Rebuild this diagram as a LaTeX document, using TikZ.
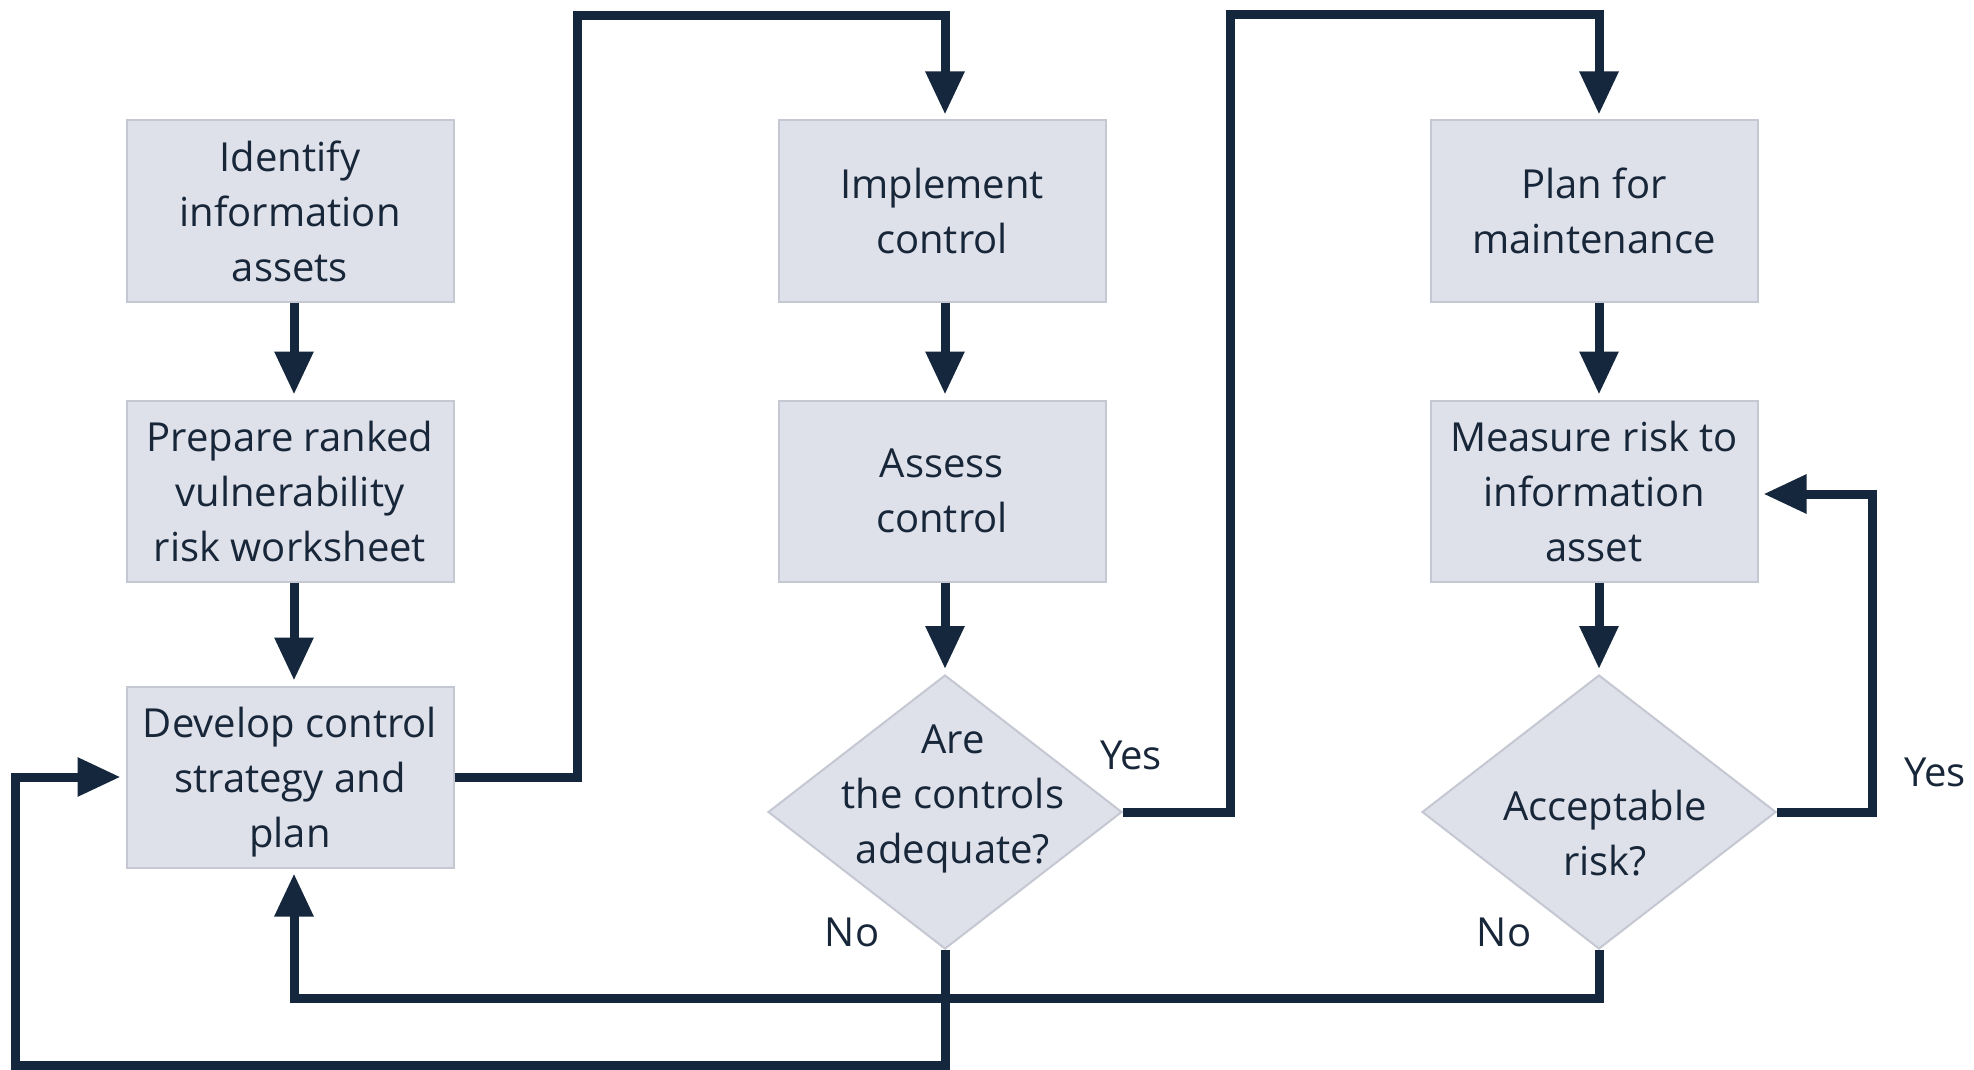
\documentclass[tikz,border=0pt]{standalone}
\usepackage{fontspec}
\setmainfont{Open Sans}
\usetikzlibrary{arrows.meta,shapes.geometric}
\definecolor{navy}{HTML}{14273D}
\definecolor{boxfill}{HTML}{DFE1EA}
\definecolor{boxline}{HTML}{C5C8D2}
\definecolor{txt}{HTML}{172638}
\begin{document}
\begin{tikzpicture}[x=1pt,y=-1pt,
 stepbox/.style={draw=boxline, line width=2pt, fill=boxfill, minimum width=327pt, minimum height=181pt, inner sep=0pt, align=center, text=txt, font=\fontsize{40}{55}\selectfont},
 decision/.style={diamond, draw=boxline, line width=2pt, fill=boxfill, minimum width=354pt, minimum height=274pt, inner sep=0pt},
 dtext/.style={align=center, text=txt, font=\fontsize{40}{55}\selectfont, inner sep=0pt},
 lab/.style={text=txt, font=\fontsize{40}{48}\selectfont, inner sep=0pt},
 flow/.style={draw=navy, line width=9pt, line join=miter, -{Triangle[width=37pt,length=43pt]}, shorten >=5pt},
]
\fill[white] (0,0) rectangle (1974,1070);
\useasboundingbox (0,0) rectangle (1974,1070);

\node[stepbox] (a1) at (290,211) {Identify\\information\\assets};
\node[stepbox] (a2) at (290,491) {Prepare ranked\\vulnerability\\risk worksheet};
\node[stepbox, label={[dtext, yshift=-5pt]center:{Develop control\\strategy and\\plan}}] (a3) at (290,777) {};
\node[stepbox] (b1) at (942,211) {Implement\\control};
\node[stepbox] (b2) at (942,491) {Assess\\control};
\node[decision] (d1) at (945,812) {};
\node[dtext] (t1) at (953,799) {Are\\the controls\\adequate?};
\node[stepbox] (c1) at (1594,211) {Plan for\\maintenance};
\node[stepbox] (c2) at (1594,491) {Measure risk to\\information\\asset};
\node[decision] (d2) at (1599,812) {};
\node[dtext] (t2) at (1605,833) {Acceptable\\risk?};

\node[lab] (y1) at (1131,755) {Yes};
\node[lab] (n1) at (852,932) {No};
\node[lab] (y2) at (1935,772) {Yes};
\node[lab] (n2) at (1504,932) {No};

\coordinate (p1) at (577,16);
\coordinate (p2) at (1230,15);
\coordinate (p3) at (1872,494);
\coordinate (p4) at (1599,998);
\coordinate (p5) at (15,1065);

\draw[flow] ([xshift=4pt]a1.south) -- ([xshift=4pt]a2.north);
\draw[flow] ([xshift=4pt]a2.south) -- ([xshift=4pt]a3.north);
\draw[flow] ([xshift=3pt]b1.south) -- ([xshift=3pt]b2.north);
\draw[flow] ([xshift=3pt]b2.south) -- (d1.north);
\draw[flow] ([xshift=5pt]c1.south) -- ([xshift=5pt]c2.north);
\draw[flow] ([xshift=5pt]c2.south) -- (d2.north);

\draw[flow] (a3.east) -| (p1) -| ([xshift=3pt]b1.north);
\draw[flow] (d1.east) -| (p2) -| ([xshift=5pt]c1.north);
\draw[flow] (d2.east) -| (p3) -- (c2.east |- p3);
\draw[flow] (d2.south) -- (p4) -| ([xshift=4pt]a3.south);
\draw[flow] (d1.south) |- (p5) |- (a3.west);
\end{tikzpicture}
\end{document}
